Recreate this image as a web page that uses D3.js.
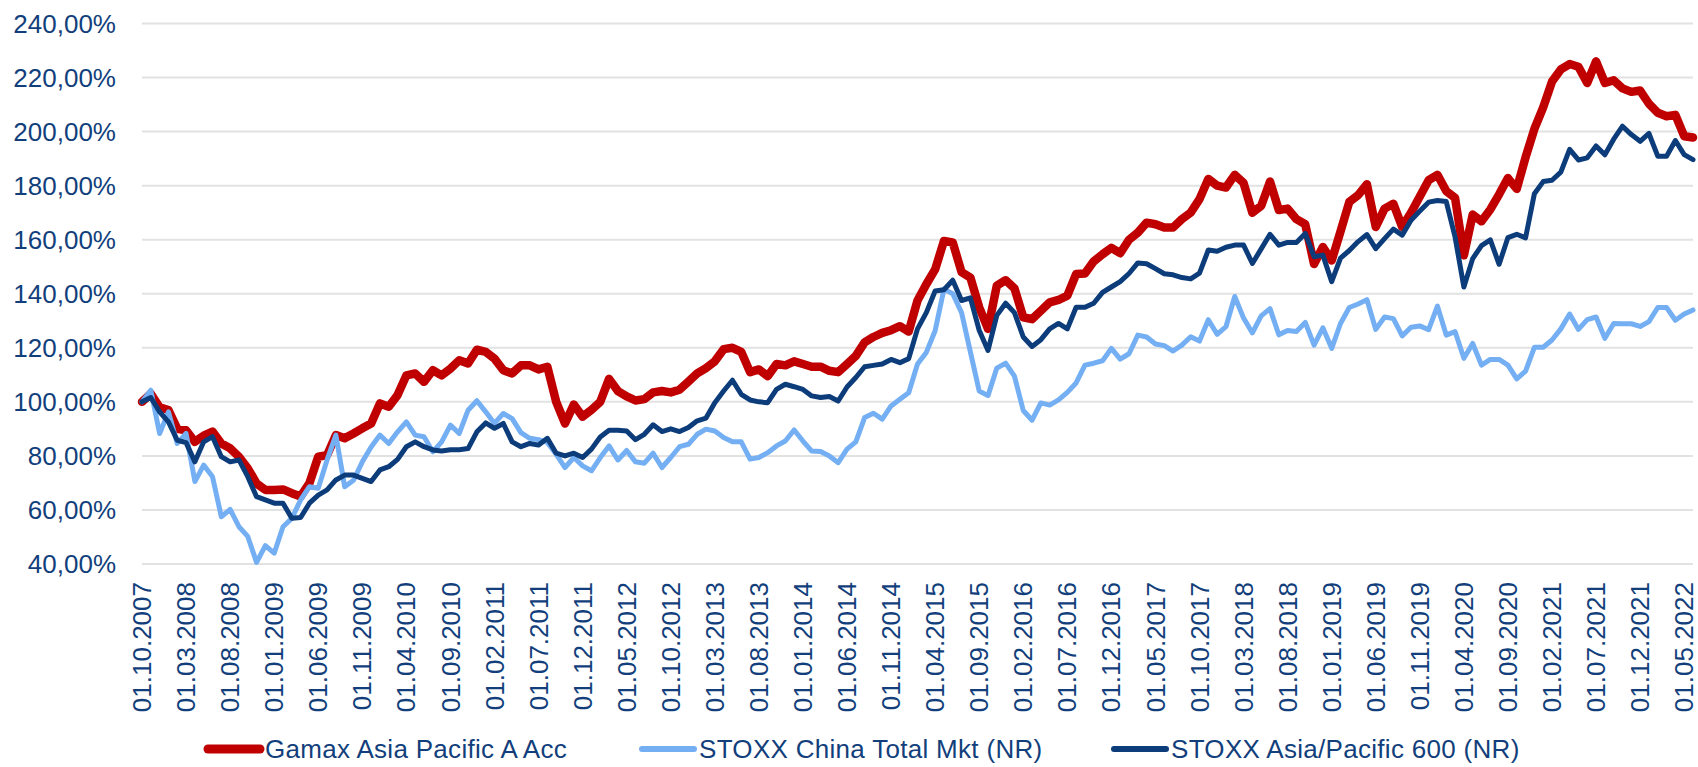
<!DOCTYPE html>
<html>
<head>
<meta charset="utf-8">
<script src="https://cdn.jsdelivr.net/npm/d3@7"></script>
<style>
  body { margin: 0; background: #fff; }
  text { font-family: "Liberation Sans", Arial, sans-serif; }
</style>
</head>
<body>
<script>
const width = 1698, height = 767;

// monthly observations, 01.10.2007 .. 01.06.2022
const months = d3.timeMonth.range(new Date(2007, 9, 1), new Date(2022, 6, 1));

const gamax = [
  100, 103, 98, 97, 90, 89.5, 85.2, 87.5, 89, 84.6, 82.8, 79.7, 75.4, 69.8, 67.4, 67.4, 67.6, 66.2, 65, 69.9,
  79.7, 80.3, 87.7, 86.5, 88.3, 90.2, 92, 99.4, 98.2, 102.5, 109.8, 110.5, 107.4, 111.7, 109.8, 112.3, 115.4, 114.2, 119.3, 118.5,
  116, 111.7, 110.5, 113.5, 113.5, 112, 113, 100, 92, 99, 94.5, 97, 100, 108.5, 104, 102, 100.5, 101, 103.5, 104,
  103.5, 104.5, 107.5, 110.5, 112.5, 115, 119.5, 120, 118.5, 111, 112, 109.5, 114, 113.5, 115, 114, 113, 113, 111.5, 111,
  114, 117, 122, 124, 125.5, 126.5, 128, 126, 137.5, 143.5, 149, 159.5, 159, 148, 146, 135, 127, 143, 145, 142,
  131.3, 130.6, 133.7, 136.8, 137.7, 139.3, 147.3, 147.5, 152, 154.6, 157, 155, 160, 162.6, 166.3, 165.7, 164.5, 164.5, 167.6, 170,
  175, 182.5, 180, 179.3, 184, 181, 170, 172.5, 181.5, 171, 171.5, 167.6, 165.7, 151, 157.3, 152.3, 163, 174, 176.5, 180.5,
  164.7, 171.5, 173.3, 164.7, 170, 176, 182, 184, 178, 175.5, 154.2, 169.3, 166.8, 171.2, 176.8, 182.8, 178.8, 190.5, 201, 209,
  218.5, 223, 225, 224, 218, 226, 218, 219, 216, 214.7, 215.2, 210.3, 207, 205.7, 206.2, 198.3, 197.8
];

const china = [
  100, 104.3, 88.3, 96.3, 84.6, 88.3, 70.5, 76.6, 72.3, 57.5, 60.2, 53.8, 50.2, 40.6, 46.8, 44, 53.8, 56.9, 63.7, 68.6,
  68, 78.5, 87.7, 68.6, 71, 77.8, 83.3, 87.7, 84.6, 88.9, 92.6, 87.7, 87.1, 81.5, 85.2, 91.4, 88.3, 96.9, 100.4, 96.3,
  92, 95.7, 93.8, 88.6, 86.5, 86, 85, 80.6, 75.7, 79.4, 76.3, 74.5, 79.4, 83.7, 78.5, 82, 77.8, 77.3, 81, 75.7,
  79.4, 83.4, 84.3, 88, 89.9, 89.2, 86.8, 85.2, 85.2, 78.8, 79.4, 81.2, 83.7, 85.5, 89.6, 85.5, 81.8, 81.6, 80, 77.5,
  82.5, 85.2, 94.2, 95.8, 93.6, 98.5, 101, 103.4, 114, 118.3, 126.3, 141.7, 140, 133, 118.5, 104, 102.3, 112.5, 114.3, 109.5,
  96.8, 93.2, 99.6, 98.8, 100.7, 103.5, 107, 113.6, 114.3, 115.2, 119.8, 115.8, 117.8, 124.7, 124, 121.4, 120.8, 118.8, 121, 124.1,
  122.5, 130.4, 125, 127.8, 139, 131, 125.5, 131.8, 134.5, 124.8, 126.4, 126, 129.4, 121, 127.4, 119.8, 129, 134.9, 136.2, 137.8,
  126.8, 131.4, 130.8, 124.4, 127.6, 128.1, 126.7, 135.4, 124.7, 126, 116.1, 121.6, 113.6, 115.7, 115.7, 113.6, 108.5, 111.4, 120.2, 120.2,
  122.9, 127, 132.5, 126.8, 130.4, 131.4, 123.5, 129, 128.9, 128.9, 127.9, 129.7, 134.9, 134.9, 130.2, 132.5, 134
];

const asiaPac = [
  100, 101.6, 96.3, 92.6, 85.8, 84.9, 77.8, 85.2, 87.1, 79.7, 77.8, 78.5, 72.3, 64.9, 63.7, 62.5, 62.5, 56.9, 57.2, 62.5,
  65.5, 67.4, 71.1, 72.9, 72.9, 71.7, 70.5, 74.8, 76, 78.7, 83.4, 85.2, 83.4, 82.2, 81.8, 82.3, 82.3, 82.7, 88.9, 92.2,
  90.2, 92, 85.2, 83.4, 84.6, 84, 86.5, 81, 80, 81, 79.4, 82.5, 87, 89.5, 89.5, 89.2, 86, 88, 91.5, 89,
  90, 89, 90.5, 93, 94, 99.7, 104, 108, 102.8, 100.7, 100, 99.7, 104.6, 106.5, 105.6, 104.6, 102.2, 101.6, 102, 100.3,
  105.5, 109, 113, 113.5, 114, 115.7, 114.5, 116, 127, 133, 141, 141.5, 145, 137.5, 138.5, 126.5, 119, 132, 136.5, 133,
  124, 120.5, 123, 127, 129, 127, 135, 135, 136.5, 140.5, 142.5, 144.5, 147.5, 151.4, 151.1, 149.3, 147.4, 147, 146, 145.5,
  147.6, 156.2, 155.7, 157.2, 158, 158, 151.2, 156.6, 162, 158, 159, 159, 162.3, 153.7, 154.3, 144.5, 153.2, 156, 159.3, 161.9,
  156.7, 160.4, 163.9, 161.7, 167.2, 170.6, 173.9, 174.5, 174.1, 161, 142.5, 153, 157.8, 159.9, 150.9, 160.8, 162, 160.7, 177, 181.5,
  182, 185, 193.4, 189.5, 190.3, 194.7, 191.4, 197.2, 202, 198.9, 196.4, 199.3, 190.9, 190.9, 196.7, 191.5, 189.6
];

const seriesNames = ["Gamax Asia Pacific A Acc", "STOXX China Total Mkt (NR)", "STOXX Asia/Pacific 600 (NR)"];
const yTicks = [40, 60, 80, 100, 120, 140, 160, 180, 200, 220, 240];

const textColor = "#123f7c";
const colors = ["#c00000", "#74aff3", "#0c3c7a"];
const widths = [8.5, 5, 5];

const svg = d3.select("body").append("svg")
  .attr("width", width)
  .attr("height", height);

const x = d3.scalePoint()
  .domain(d3.range(months.length))
  .range([142, 1693]);

const y = d3.scaleLinear()
  .domain([40, 240])
  .range([564, 23.5]);

const de = d3.formatLocale({ decimal: ",", thousands: ".", grouping: [3], currency: ["", "€"] });
const fmtPct = d => de.format(".2f")(d) + "%";
const fmtDate = d3.timeFormat("%d.%m.%Y");

// gridlines
svg.append("g")
  .selectAll("line")
  .data(yTicks)
  .enter().append("line")
  .attr("x1", x.range()[0])
  .attr("x2", x.range()[1])
  .attr("y1", d => y(d))
  .attr("y2", d => y(d))
  .attr("stroke", "#e2e2e2")
  .attr("stroke-width", 2);

// y labels
svg.append("g")
  .selectAll("text")
  .data(yTicks)
  .enter().append("text")
  .attr("x", 116)
  .attr("y", d => y(d))
  .attr("dy", "0.35em")
  .attr("text-anchor", "end")
  .attr("font-size", 26)
  .attr("fill", textColor)
  .text(fmtPct);

// x labels, every 5th month, rotated
const tickIdx = d3.range(0, months.length, 5);
svg.append("g")
  .selectAll("text")
  .data(tickIdx)
  .enter().append("text")
  .attr("transform", i => `translate(${x(i)},582) rotate(-90)`)
  .attr("dy", "0.35em")
  .attr("text-anchor", "end")
  .attr("font-size", 26)
  .attr("fill", textColor)
  .text(i => fmtDate(months[i]));

// lines
const line = d3.line()
  .x((d, i) => x(i))
  .y(d => y(d));

[gamax, china, asiaPac].forEach((s, k) => {
  svg.append("path")
    .datum(s)
    .attr("d", line)
    .attr("fill", "none")
    .attr("stroke", colors[k])
    .attr("stroke-width", widths[k])
    .attr("stroke-linejoin", "round")
    .attr("stroke-linecap", "round");
});

// legend
const legendX = [204, 638, 1110];
const legend = svg.append("g").attr("transform", "translate(0,749)");
seriesNames.forEach((name, k) => {
  legend.append("line")
    .attr("x1", legendX[k] + 4)
    .attr("x2", legendX[k] + 56)
    .attr("stroke", colors[k])
    .attr("stroke-width", k === 0 ? 9 : 6)
    .attr("stroke-linecap", "round");
  legend.append("text")
    .attr("x", legendX[k] + 61)
    .attr("dy", "0.35em")
    .attr("font-size", 26)
    .attr("fill", textColor)
    .style("letter-spacing", "0.3px")
    .text(name);
});
</script>
</body>
</html>
